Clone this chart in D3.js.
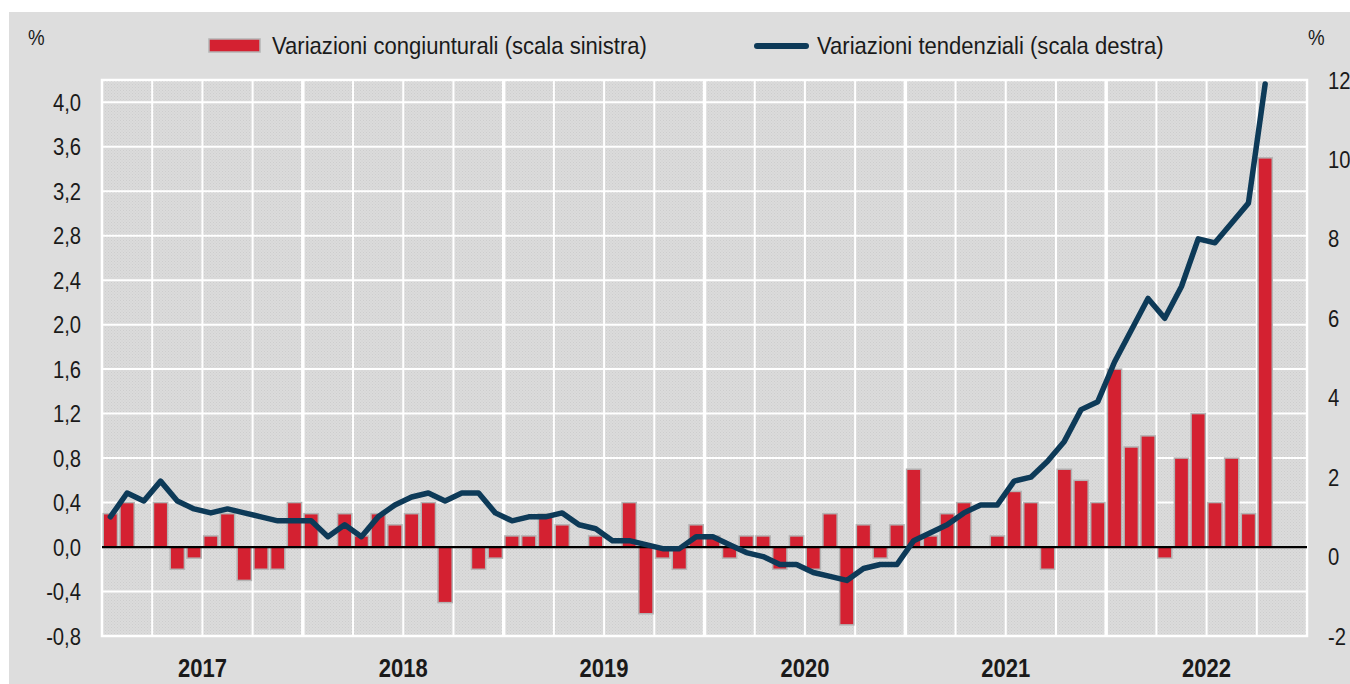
<!DOCTYPE html>
<html><head><meta charset="utf-8">
<script src="https://cdn.jsdelivr.net/npm/d3@7"></script>
<style>
html,body{margin:0;padding:0;background:#fff;}
svg{display:block;}
text{font-family:"Liberation Sans",Arial,sans-serif;fill:#1a1a1a;}
</style></head>
<body>
<svg id="chart" width="1350" height="684"></svg>
<script>
const years = ["2017","2018","2019","2020","2021","2022"];
const leftTicks = [-0.8,-0.4,0,0.4,0.8,1.2,1.6,2.0,2.4,2.8,3.2,3.6,4.0];
const rightTicks = [-2,0,2,4,6,8,10,12];
const seriesBarName = "Variazioni congiunturali (scala sinistra)";
const seriesLineName = "Variazioni tendenziali (scala destra)";
// monthly changes (left scale), Jan 2017 .. Dec 2022
const congiunturali = [
  0.3, 0.4, 0, 0.4, -0.2, -0.1, 0.1, 0.3, -0.3, -0.2, -0.2, 0.4,
  0.3, 0, 0.3, 0.1, 0.3, 0.2, 0.3, 0.4, -0.5, 0, -0.2, -0.1,
  0.1, 0.1, 0.3, 0.2, 0, 0.1, 0, 0.4, -0.6, -0.1, -0.2, 0.2,
  0.1, -0.1, 0.1, 0.1, -0.2, 0.1, -0.2, 0.3, -0.7, 0.2, -0.1, 0.2,
  0.7, 0.1, 0.3, 0.4, 0, 0.1, 0.5, 0.4, -0.2, 0.7, 0.6, 0.4,
  1.6, 0.9, 1.0, -0.1, 0.8, 1.2, 0.4, 0.8, 0.3, 3.5, null, null
];
// year-on-year changes (right scale)
const tendenziali = [
  1.0, 1.6, 1.4, 1.9, 1.4, 1.2, 1.1, 1.2, 1.1, 1.0, 0.9, 0.9,
  0.9, 0.5, 0.8, 0.5, 1.0, 1.3, 1.5, 1.6, 1.4, 1.6, 1.6, 1.1,
  0.9, 1.0, 1.0, 1.1, 0.8, 0.7, 0.4, 0.4, 0.3, 0.2, 0.2, 0.5,
  0.5, 0.3, 0.1, 0.0, -0.2, -0.2, -0.4, -0.5, -0.6, -0.3, -0.2, -0.2,
  0.4, 0.6, 0.8, 1.1, 1.3, 1.3, 1.9, 2.0, 2.4, 2.9, 3.7, 3.9,
  4.9, 5.7, 6.5, 6.0, 6.8, 8.0, 7.9, 8.4, 8.9, 11.9, null, null
];

const svg = d3.select("#chart");
const L = 102, R = 1307, T = 80, B = 636;
const idx = d3.range(congiunturali.length);

const x = d3.scaleBand().domain(idx).range([L, R]).paddingInner(0.15).paddingOuter(0.075);
const xStep = x.step();
const yL = d3.scaleLinear().domain([-0.8, 4.2]).range([B, T]);
const yR = d3.scaleLinear().domain([-2, 12]).range([B, T]);

// horizontally condensed text helper
function condense(sel, sx) {
  sel.each(function() {
    const t = d3.select(this);
    const xv = +t.attr("x") || 0;
    t.attr("x", xv / sx).attr("transform", `scale(${sx},1)`);
  });
}

// background
svg.append("rect").attr("x", 0).attr("y", 0).attr("width", 1350).attr("height", 684).attr("fill", "#ffffff");
svg.append("rect").attr("x", 9).attr("y", 12).attr("width", 1341).attr("height", 672).attr("fill", "#dddddd");

// dotted plot texture
const defs = svg.append("defs");
const pat = defs.append("pattern").attr("id", "dots").attr("width", 3).attr("height", 3).attr("patternUnits", "userSpaceOnUse");
pat.append("rect").attr("width", 3).attr("height", 3).attr("fill", "#dbdbdb");
pat.append("rect").attr("x", 0).attr("y", 0).attr("width", 1).attr("height", 1).attr("fill", "#cdcdcd");
pat.append("rect").attr("x", 1.5).attr("y", 1.5).attr("width", 1).attr("height", 1).attr("fill", "#d2d2d2");

svg.append("rect").attr("x", L).attr("y", T).attr("width", R - L).attr("height", B - T).attr("fill", "url(#dots)");

// horizontal gridlines
svg.append("g").selectAll("line").data(leftTicks.filter(d => d > -0.8)).join("line")
  .attr("x1", L).attr("x2", R).attr("y1", d => yL(d)).attr("y2", d => yL(d))
  .attr("stroke", "#ffffff").attr("stroke-width", 2);

// vertical gridlines at quarters
const quarterIdx = d3.range(3, congiunturali.length, 3);
svg.append("g").selectAll("line").data(quarterIdx).join("line")
  .attr("x1", d => L + d * xStep).attr("x2", d => L + d * xStep)
  .attr("y1", T).attr("y2", B)
  .attr("stroke", "#ffffff").attr("stroke-width", d => d % 12 === 0 ? 3.5 : 2);

// plot border
svg.append("rect").attr("x", L).attr("y", T).attr("width", R - L).attr("height", B - T)
  .attr("fill", "none").attr("stroke", "#ffffff").attr("stroke-width", 2.5);

// bars
svg.append("g").selectAll("rect").data(idx.filter(i => congiunturali[i] !== null && congiunturali[i] !== 0)).join("rect")
  .attr("x", i => x(i))
  .attr("width", x.bandwidth())
  .attr("y", i => yL(Math.max(0, congiunturali[i])))
  .attr("height", i => Math.abs(yL(congiunturali[i]) - yL(0)))
  .attr("fill", "#d42131")
  .attr("stroke", "#b4b4b4").attr("stroke-width", 1.5);

// zero line
svg.append("line").attr("x1", L).attr("x2", R).attr("y1", yL(0)).attr("y2", yL(0))
  .attr("stroke", "#000000").attr("stroke-width", 2.2);

// line
const line = d3.line()
  .defined(i => tendenziali[i] !== null)
  .x(i => x(i) + x.bandwidth() / 2)
  .y(i => yR(tendenziali[i]));
svg.append("path").datum(idx).attr("d", line)
  .attr("fill", "none").attr("stroke", "#0d3a58").attr("stroke-width", 5.5)
  .attr("stroke-linejoin", "round").attr("stroke-linecap", "round");

// left axis
const fmt = d => d3.format(".1f")(d).replace(".", ",").replace("−", "-");
const axL = svg.append("g").attr("transform", `translate(${L},0)`)
  .call(d3.axisLeft(yL).tickValues(leftTicks).tickFormat(fmt).tickSize(0).tickPadding(21));
axL.select(".domain").remove();
axL.selectAll("text").attr("font-size", 23).attr("fill", "#1a1a1a").attr("dy", "0.35em")
  .style("font-family", '"Liberation Sans",Arial,sans-serif').call(condense, 0.88);

// right axis
const axR = svg.append("g").attr("transform", `translate(${R},0)`)
  .call(d3.axisRight(yR).tickValues(rightTicks).tickFormat(d => String(d).replace("−", "-")).tickSize(0).tickPadding(21));
axR.select(".domain").remove();
axR.selectAll("text").attr("font-size", 23).attr("fill", "#1a1a1a").attr("dy", "0.35em")
  .style("font-family", '"Liberation Sans",Arial,sans-serif').call(condense, 0.88);

// year labels
svg.append("g").selectAll("text").data(years).join("text")
  .attr("x", (d, k) => L + (k * 12 + 6) * xStep)
  .attr("y", 677)
  .attr("text-anchor", "middle")
  .attr("font-size", 25).attr("font-weight", "bold")
  .text(d => d)
  .call(condense, 0.88);

// percent units
svg.append("text").attr("x", 28).attr("y", 45).attr("font-size", 22).text("%").call(condense, 0.85);
svg.append("text").attr("x", 1308).attr("y", 45).attr("font-size", 22).text("%").call(condense, 0.85);

// legend
const lg = svg.append("g");
lg.append("rect").attr("x", 209).attr("y", 39).attr("width", 51).attr("height", 13)
  .attr("fill", "#d42131").attr("stroke", "#b4b4b4").attr("stroke-width", 1.5);
lg.append("text").attr("x", 272).attr("y", 54).attr("font-size", 24).text(seriesBarName).call(condense, 0.92);
lg.append("line").attr("x1", 757).attr("x2", 806).attr("y1", 46).attr("y2", 46)
  .attr("stroke", "#0d3a58").attr("stroke-width", 6).attr("stroke-linecap", "round");
lg.append("text").attr("x", 817).attr("y", 54).attr("font-size", 24).text(seriesLineName).call(condense, 0.92);
</script>
</body></html>
